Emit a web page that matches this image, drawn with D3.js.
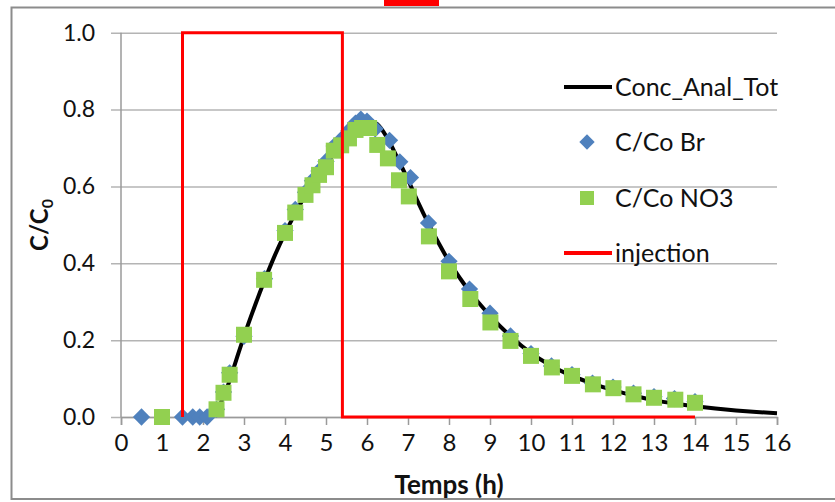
<!DOCTYPE html>
<html><head><meta charset="utf-8">
<script src="https://cdn.jsdelivr.net/npm/d3@7"></script>
<style>
html,body{margin:0;padding:0;background:#fff;}
svg{display:block;font-family:Lato,"Liberation Sans",sans-serif;}
</style></head>
<body>
<svg id="chart" width="835" height="502"></svg>
<script>
// ---- data ----
const xTicks = [0,1,2,3,4,5,6,7,8,9,10,11,12,13,14,15,16];
const yTicks = [0,0.2,0.4,0.6,0.8,1.0];

// analytical curve (Conc_Anal_Tot)
const analX = [2.0,2.2,2.4,2.6,2.8,3.0,3.25,3.5,3.75,4.0,4.25,4.5,4.75,5.0,5.25,5.5,5.75,6.0,6.25,6.5,6.75,7.0,7.25,7.5,7.75,8.0,8.5,9.0,9.5,10.0,10.5,11.0,11.5,12.0,12.5,13.0,13.5,14.0,14.5,15.0,15.5,16.0];
const analY = [0.000,0.005,0.03,0.08,0.145,0.21,0.285,0.355,0.42,0.478,0.53,0.578,0.62,0.658,0.692,0.722,0.752,0.772,0.762,0.725,0.672,0.617,0.558,0.503,0.452,0.405,0.327,0.264,0.21,0.166,0.133,0.107,0.087,0.070,0.056,0.044,0.035,0.028,0.022,0.017,0.013,0.010];

// C/Co Br (diamonds)
const brX = [0.5,1.5,1.75,1.92,2.1,2.33,2.5,2.65,3.0,3.5,4.0,4.25,4.5,4.67,4.83,5.0,5.2,5.4,5.56,5.72,5.85,6.0,6.2,6.55,6.8,7.06,7.5,8.0,8.5,9.0,9.5,10.0,10.5,11.0,11.5,12.0,12.5,13.0,13.5,14.0];
const brY = [0,0,0,0,0,0.02,0.065,0.115,0.21,0.36,0.485,0.54,0.585,0.615,0.64,0.665,0.705,0.725,0.745,0.765,0.775,0.77,0.75,0.72,0.664,0.623,0.505,0.405,0.333,0.27,0.211,0.165,0.133,0.11,0.088,0.078,0.062,0.053,0.048,0.040];

// C/Co NO3 (squares)
const no3X = [1.0,2.33,2.5,2.65,3.0,3.49,4.0,4.25,4.5,4.67,4.83,5.0,5.19,5.37,5.56,5.72,5.88,6.05,6.25,6.51,6.78,7.02,7.51,8.0,8.52,9.01,9.5,10.0,10.51,11.0,11.51,12.01,12.5,13.0,13.52,14.0];
const no3Y = [0,0.02,0.063,0.11,0.214,0.357,0.479,0.532,0.578,0.603,0.63,0.65,0.693,0.707,0.725,0.747,0.752,0.752,0.708,0.673,0.616,0.574,0.47,0.379,0.307,0.246,0.198,0.159,0.129,0.107,0.085,0.075,0.059,0.05,0.045,0.037];

// injection
const injX = [1.5,1.5,5.4,5.4,14];
const injY = [0,1,1,0,0];

const legendLabels = ["Conc_Anal_Tot","C/Co Br","C/Co NO3","injection"];

// ---- chart ----
const svg = d3.select("#chart");
const x = d3.scaleLinear().domain([0,16]).range([121,777]);
const y = d3.scaleLinear().domain([0,1]).range([417,32.7]);

// outer frame and top red mark
svg.append("rect").attr("x",11.5).attr("y",7.5).attr("width",900).attr("height",491.5)
  .attr("fill","none").attr("stroke","#8c8c8c").attr("stroke-width",2);
svg.append("rect").attr("x",384).attr("y",0).attr("width",55).attr("height",6).attr("fill","#ff0000");

// gridlines (y axis with ticks extended)
const yAxis = d3.axisLeft(y).tickValues(yTicks).tickSize(-(777-111)).tickPadding(0).tickFormat(d3.format(".1f"));
const gy = svg.append("g").attr("transform","translate(111,0)").call(yAxis);
gy.select(".domain").remove();
gy.selectAll(".tick line").attr("stroke","#b4b4b4").attr("stroke-width",1.5);
gy.selectAll(".tick text").attr("x",-16).attr("font-size",23).attr("fill","#111").attr("font-family","Lato, sans-serif");

// vertical y axis line
svg.append("line").attr("x1",x(0)).attr("x2",x(0)).attr("y1",y(0)).attr("y2",y(1))
  .attr("stroke","#9a9a9a").attr("stroke-width",1.5);

// x axis
const xAxis = d3.axisBottom(x).tickValues(xTicks).tickSize(8).tickPadding(9).tickFormat(d3.format("d"));
const gx = svg.append("g").attr("transform",`translate(0,${y(0)})`).call(xAxis);
gx.select(".domain").attr("stroke","#9a9a9a").attr("stroke-width",1.5);
gx.selectAll(".tick line").attr("stroke","#9a9a9a").attr("stroke-width",1.5);
gx.selectAll(".tick text").attr("font-size",24).attr("fill","#111").attr("font-family","Lato, sans-serif");

// analytical curve
const line = d3.line().x(d=>x(d[0])).y(d=>y(d[1])).curve(d3.curveMonotoneX);
svg.append("path").datum(d3.zip(analX,analY)).attr("d",line)
  .attr("fill","none").attr("stroke","#000").attr("stroke-width",4);

// diamonds
const diamond = d3.symbol().type(d3.symbolDiamond2).size(190);
svg.append("g").selectAll("path").data(d3.zip(brX,brY)).join("path")
  .attr("d",diamond).attr("transform",d=>`translate(${x(d[0])},${y(d[1])})`)
  .attr("fill","#4f81bd");

// squares
const sq = 16;
svg.append("g").selectAll("rect").data(d3.zip(no3X,no3Y)).join("rect")
  .attr("x",d=>x(d[0])-sq/2).attr("y",d=>y(d[1])-sq/2).attr("width",sq).attr("height",sq)
  .attr("fill","#92d050");

// injection
const lin = d3.line().x(d=>x(d[0])).y(d=>y(d[1]));
svg.append("path").datum(d3.zip(injX,injY)).attr("d",lin)
  .attr("fill","none").attr("stroke","#ff0000").attr("stroke-width",3);

// axis titles
svg.append("text").attr("x",449).attr("y",494).attr("text-anchor","middle")
  .attr("font-size",26).attr("font-weight","bold").attr("fill","#111").text("Temps (h)");
const yl = svg.append("text").attr("transform","translate(48,225) rotate(-90)")
  .attr("text-anchor","middle").attr("font-size",24).attr("font-weight","bold").attr("fill","#111");
yl.append("tspan").text("C/C");
yl.append("tspan").attr("font-size",16).attr("dy",5).text("0");

// legend
const legY = [87,142,198,253];
const lg = svg.append("g");
lg.append("line").attr("x1",564).attr("x2",612).attr("y1",legY[0]).attr("y2",legY[0]).attr("stroke","#000").attr("stroke-width",4);
lg.append("path").attr("d",d3.symbol().type(d3.symbolDiamond2).size(150)).attr("transform",`translate(587,${legY[1]})`).attr("fill","#4f81bd");
lg.append("rect").attr("x",580).attr("y",legY[2]-7).attr("width",14).attr("height",14).attr("fill","#92d050");
lg.append("line").attr("x1",564).attr("x2",612).attr("y1",legY[3]).attr("y2",legY[3]).attr("stroke","#ff0000").attr("stroke-width",4);
lg.selectAll("text").data(legendLabels).join("text")
  .attr("x",615).attr("y",(d,i)=>legY[i]).attr("dy","0.36em")
  .attr("font-size",25).attr("fill","#111").text(d=>d);
</script>
</body></html>
